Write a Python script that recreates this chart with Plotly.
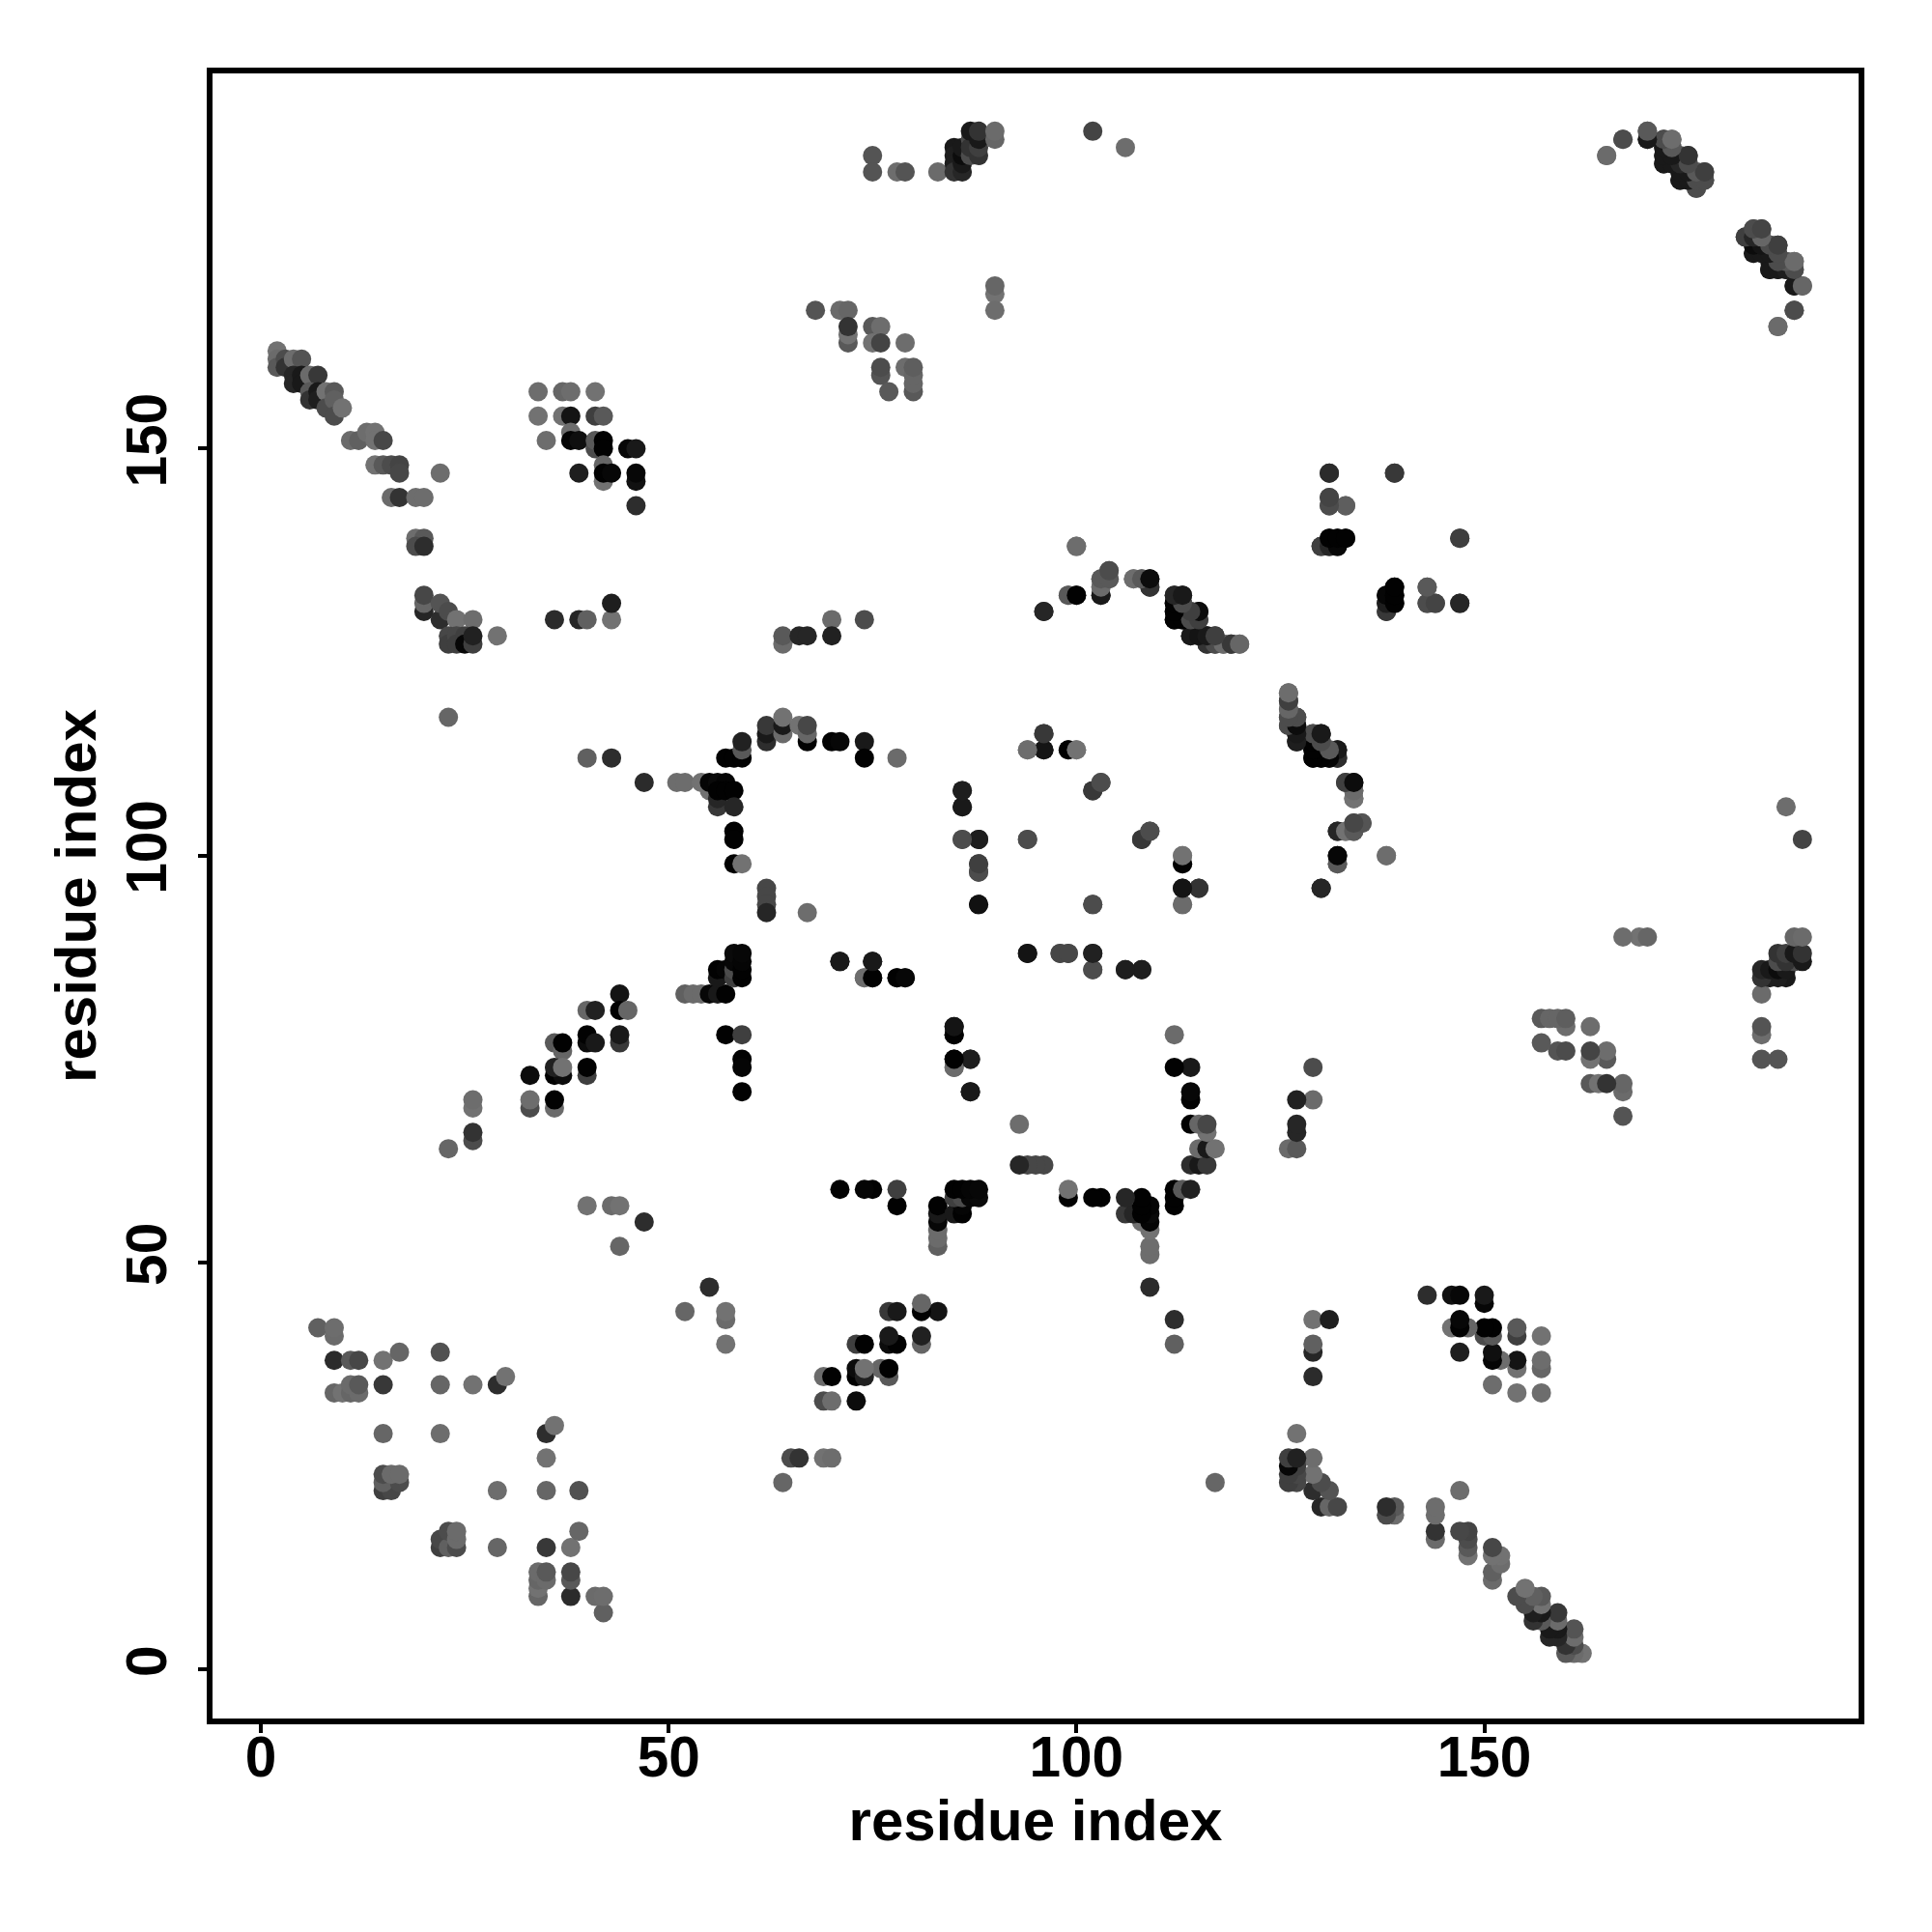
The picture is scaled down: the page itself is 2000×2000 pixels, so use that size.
import plotly.graph_objects as go

# contact pairs: (residue a, residue b, grey level 0=black .. 0.45=mid grey); map is symmetric
strand_n_term = [(2,162,.45),(2,161,.42),(2,160,.35),(3,161,.3),(3,160,.2),(4,161,.43),(5,161,.33),(4,159,.15),(4,158,.15),
    (5,159,.1),(5,158,.1),(6,159,.42),(7,159,.22),(6,157,.35),(6,156,.2),(7,157,.1),(7,156,.12),(8,157,.45),(9,157,.35),
    (8,155,.3),(9,156,.38),(9,154,.3),(10,155,.45)]
strand_11_20 = [(11,151,.42),(12,151,.38),(13,152,.43),(14,152,.45),(14,151,.45),(15,151,.28),(14,148,.45),(15,148,.35),
    (16,148,.3),(17,148,.27),(17,147,.28),(22,147,.43),(16,144,.42),(17,144,.2),(19,144,.43),(20,144,.43),
    (19,139,.43),(20,139,.35),(19,138,.3),(20,138,.18)]
strand_20_29 = [(20,130,.15),(20,131,.4),(20,132,.28),(22,129,.18),(22,131,.33),(23,130,.3),(24,129,.45),(26,129,.43),
    (23,127,.28),(23,126,.25),(24,127,.28),(24,126,.25),(25,127,.25),(25,126,.03),(26,126,.25),(26,127,.13),(29,127,.45),(23,117,.4)]
block_34_46 = [(34,157,.43),(37,157,.4),(38,157,.43),(41,157,.45),(34,154,.45),(37,154,.45),(38,154,.08),(41,154,.25),(42,154,.35),
    (35,151,.43),(38,152,.43),(38,151,.02),(39,151,.06),(41,150,.3),(41,151,.35),(42,151,.01),(42,150,.01),(45,150,.03),(46,150,.1),
    (39,147,.12),(42,146,.45),(42,148,.4),(42,147,.01),(43,147,.03),(46,146,.07),(46,147,.03),(46,143,.18)]
row_129 = [(36,129,.17),(39,129,.15),(40,129,.38),(43,129,.45),(43,131,.12),(40,112,.38),(43,112,.18),(47,109,.17)]
arc_51_78 = [(51,109,.43),(52,109,.43),(54,109,.45),(55,108,.45),(55,109,.02),(56,109,.04),(57,109,.02),(56,106,.22),(56,107,.15),
    (56,108,.01),(57,108,.01),(58,108,.01),(58,106,.15),(57,112,.01),(58,112,.01),(59,112,.01),(59,113,.35),(59,114,.13),
    (62,114,.18),(62,115,.1),(62,116,.22),(64,115,.42),(64,116,.1),(64,117,.45),(66,116,.45),(67,114,.01),(67,115,.4),(67,116,.28),
    (70,114,.01),(71,114,.03),(74,114,.1),(74,112,.01),(78,112,.42)]
column_58_62 = [(58,103,.01),(58,102,.01),(58,99,.01),(59,99,.45),(62,96,.28),(62,95,.28),(62,94,.28),(62,93,.15),(67,93,.43)]
block_52_59 = [(52,83,.38),(53,83,.42),(54,83,.42),(55,83,.03),(56,83,.1),(57,83,.01),(56,85,.1),(56,86,.01),(57,86,.02),
    (58,85,.25),(58,86,.3),(58,87,.03),(58,88,.04),(59,85,.01),(59,86,.01),(59,87,.02),(59,88,.03),
    (57,78,.01),(59,78,.25),(59,75,.01),(59,74,.02),(59,71,.01)]
block_71_79 = [(71,87,.1),(75,87,.12),(74,85,.42),(75,85,.01),(78,85,.01),(79,85,.08)]
block_85_88 = [(86,108,.12),(86,106,.12),(86,102,.3),(88,102,.13),(88,98,.28),(88,99,.28),(88,94,.08),
    (85,78,.01),(85,79,.03),(85,74,.43),(85,75,.01),(87,75,.1),(87,71,.1)]
block_94_108 = [(94,102,.3),(96,115,.2),(94,113,.42),(96,113,.08),(99,113,.01),(100,113,.45),(102,108,.22),(103,109,.3),(102,94,.3),
    (108,102,.22),(109,103,.3),(94,88,.07),(98,88,.3),(99,88,.25),(102,88,.12),(102,86,.3),(106,86,.1),(108,86,.12)]
top_75_90 = [(75,186,.33),(75,184,.33),(78,184,.43),(79,184,.33),(83,184,.42),(85,187,.1),(85,186,.12),(85,185,.12),(85,184,.2),
    (86,184,.15),(86,185,.1),(86,186,.05),(86,187,.1),(87,186,.3),(87,188,.3),(87,187,.2),(87,189,.1),(88,186,.2),(88,187,.25),
    (88,188,.1),(88,189,.2),(90,188,.4),(90,189,.42),(102,189,.27),(106,187,.43)]
block_68_90 = [(90,169,.45),(90,170,.4),(90,167,.43),(68,167,.33),(71,167,.42),(72,167,.4),(72,163,.35),(72,164,.45),(72,165,.2),
    (75,165,.35),(76,165,.43),(75,163,.45),(76,163,.27),(79,163,.43),(76,159,.33),(76,160,.3),(77,157,.35),(79,160,.43),
    (80,157,.35),(80,158,.4),(80,159,.4),(80,160,.37)]
row_127 = [(64,126,.42),(64,127,.35),(66,127,.15),(67,127,.15),(70,129,.42),(70,127,.13),(74,129,.3)]
arc_96_120 = [(100,138,.43),(103,132,.15),(103,133,.45),(103,134,.35),(104,135,.33),(104,134,.28),(99,132,.35),(100,132,.03),(96,130,.15),
    (107,134,.45),(108,134,.42),(109,133,.25),(109,134,.05),(112,132,.18),(113,132,.1),(112,131,.02),(112,130,.01),(112,129,.01),
    (113,130,.01),(113,129,.01),(114,129,.01),(113,131,.35),(114,130,.3),(115,129,.3),(115,130,.1),(114,127,.12),(115,127,.1),
    (116,126,.3),(116,127,.05),(117,127,.3),(117,126,.3),(118,126,.4),(119,126,.25),(120,126,.43)]
strand_126_135 = [(126,116,.2),(126,117,.3),(126,118,.42),(126,119,.22),(126,120,.4),(127,114,.1),(127,115,.08),(127,116,.1),(127,117,.25),
    (129,112,.01),(129,113,.01),(129,114,.3),(129,115,.25),(130,115,.05),(130,114,.25),(130,112,.01),(131,112,.01),(131,113,.3),
    (132,112,.15),(132,113,.1),(133,109,.2),(134,107,.43),(134,108,.35),(134,109,.05),(132,103,.1),(133,103,.42),(134,103,.35),
    (134,104,.35),(135,104,.3),(132,99,.35),(132,100,.01),(138,100,.43),(130,96,.15),(113,99,.01),(113,100,.45),(113,96,.08),(115,96,.22),(113,94,.43)]
block_130_147 = [(131,147,.15),(139,147,.25),(131,143,.3),(131,144,.27),(133,143,.35),(130,138,.22),(131,138,.12),(132,138,.03),
    (131,139,.01),(132,139,.01),(133,139,.01),(147,139,.22),(138,130,.25),(138,131,.15),(138,132,.03),(139,131,.01),(139,132,.01),
    (139,133,.01),(143,133,.37),(143,131,.3),(144,131,.27),(147,131,.17)]
strand_165_177 = [(165,186,.42),(167,188,.3),(170,188,.1),(170,189,.4),(172,185,.1),(172,186,.1),(172,187,.12),(172,188,.3),(173,187,.35),
    (173,186,.3),(173,188,.42),(174,183,.1),(174,184,.1),(174,185,.1),(174,186,.3),(175,183,.05),(175,184,.08),(175,185,.3),(175,186,.25),
    (176,182,.25),(176,183,.15),(176,184,.4),(177,183,.3),(177,184,.27)]
strand_182_189 = [(182,176,.3),(183,174,.1),(183,175,.1),(183,176,.3),(183,177,.3),(184,174,.1),(184,175,.1),(184,176,.35),(184,177,.25),
    (185,172,.1),(185,173,.1),(185,174,.15),(185,175,.3),(186,172,.1),(186,173,.1),(186,175,.2),(187,172,.1),(187,173,.35),(188,172,.3),
    (188,173,.43),(188,170,.1),(189,170,.35),(188,167,.3),(186,165,.42)]
strand_23_47 = [(44,83,.08),(40,81,.4),(41,81,.13),(44,81,.01),(45,81,.4),(40,77,.05),(40,78,.01),(41,77,.1),(44,77,.22),(44,78,.1),
    (36,77,.35),(37,76,.4),(37,77,.01),(36,73,.01),(37,73,.05),(36,74,.13),(37,74,.45),(40,73,.25),(40,74,.01),(33,73,.05),
    (33,69,.3),(33,70,.43),(36,69,.42),(36,70,.01),(26,69,.45),(26,70,.43),(26,65,.3),(26,66,.2),(23,64,.4),
    (40,57,.45),(43,57,.42),(44,57,.45),(47,55,.18),(44,52,.4)]
block_7_30 = [(7,42,.38),(9,41,.42),(9,42,.43),(9,38,.17),(11,38,.35),(12,38,.28),(15,38,.45),(17,39,.4),(22,39,.32),
    (9,34,.4),(10,34,.45),(11,34,.4),(12,34,.42),(11,35,.42),(12,35,.35),(15,35,.22),(22,35,.4),(26,35,.45),(29,35,.18),(30,36,.45),
    (15,29,.4),(22,29,.43),(15,22,.25),(16,22,.28),(15,23,.38),(17,23,.3),(15,24,.3),(16,24,.42),(17,24,.42)]

contact_groups = [block_7_30, strand_n_term, strand_11_20, strand_20_29, block_34_46, row_129, arc_51_78, column_58_62,
    block_52_59, block_71_79, block_85_88, block_94_108, top_75_90, block_68_90, row_127, arc_96_120, strand_126_135,
    block_130_147, strand_165_177, strand_182_189, strand_23_47]
x_ticks = [0, 50, 100, 150]
y_ticks = [0, 50, 100, 150]
x_title = "residue index"
y_title = "residue index"

pairs = [p for g in contact_groups for p in g]
xs = [p[0] for p in pairs] + [p[1] for p in pairs]
ys = [p[1] for p in pairs] + [p[0] for p in pairs]
greys = [p[2] for p in pairs] * 2
colors = [f"rgb({int(g*255)},{int(g*255)},{int(g*255)})" for g in greys]

fig = go.Figure(go.Scatter(x=xs, y=ys, mode="markers", cliponaxis=False,
    marker=dict(size=20, color=colors, line=dict(width=0)), hoverinfo="skip"))

FONT = "Liberation Sans"
axis = dict(showgrid=False, zeroline=False, showline=True, mirror=True, linecolor="black", linewidth=6,
            ticks="outside", ticklen=9, tickwidth=4, tickcolor="black",
            tickfont=dict(family=FONT, size=58.5, color="black", weight="bold"))
fig.update_layout(
    width=2000, height=2000, showlegend=False, paper_bgcolor="white", plot_bgcolor="white",
    margin=dict(l=212, r=84, t=68, b=229, autoexpand=False),
    xaxis=dict(axis, range=[-5.92, 195.89], tickvals=x_ticks, ticktext=[str(v) for v in x_ticks], ticklabelstandoff=-25,
               title=dict(text=f"<b>{x_title}</b>", font=dict(family=FONT, size=60, color="black"), standoff=14)),
    yaxis=dict(axis, range=[-6.0, 196.1], tickvals=y_ticks, ticktext=[str(v) for v in y_ticks], tickangle=-90, ticklabelstandoff=10,
               title=dict(text=f"<b>{y_title}</b>", font=dict(family=FONT, size=60, color="black"), standoff=2)),
)
fig.write_html("out.html")
